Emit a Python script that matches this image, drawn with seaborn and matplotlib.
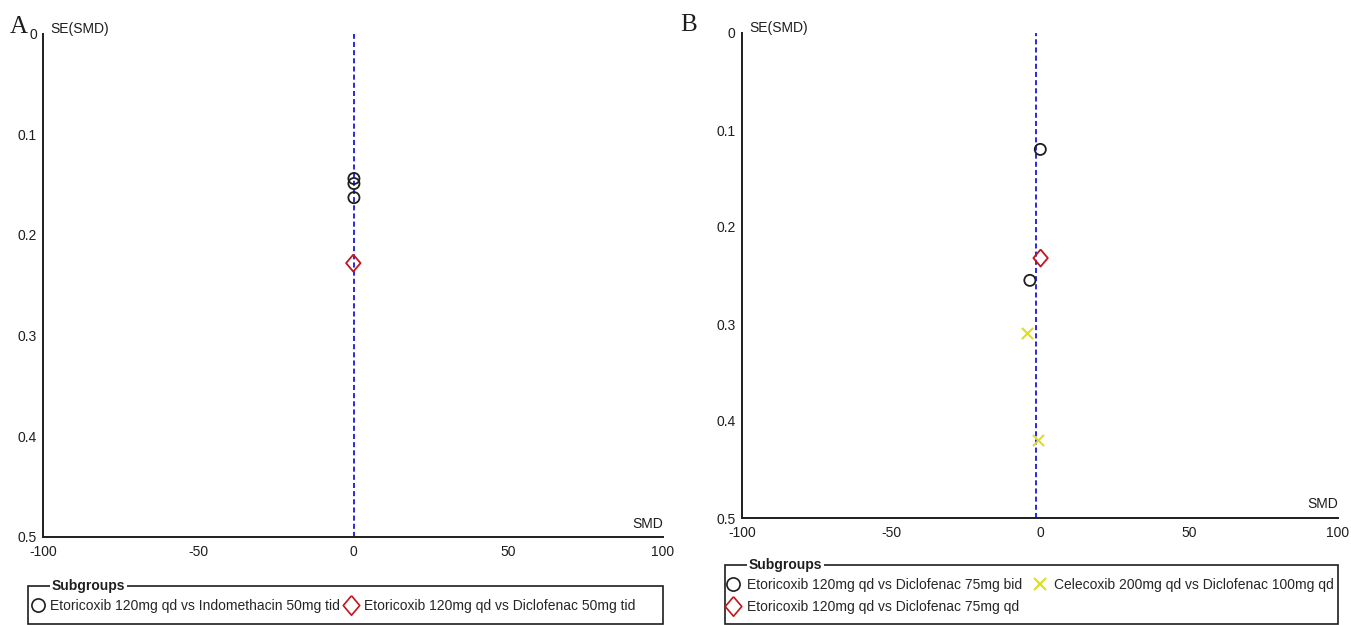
import matplotlib
matplotlib.use("Agg")
import matplotlib.pyplot as plt
import matplotlib.transforms as mtransforms
from matplotlib.lines import Line2D
from matplotlib.patches import Rectangle
import seaborn as sns
import pandas as pd

# ---- data -------------------------------------------------------------
# Panel A subgroups
a_indo_smd = [0.3, 0.3, 0.3]
a_indo_se = [0.144, 0.149, 0.163]
a_diclo_smd = [0.1]
a_diclo_se = [0.228]
a_pooled = 0.3

# Panel B subgroups
b_bid_smd = [0.1, -3.4]
b_bid_se = [0.120, 0.255]
b_qd_smd = [0.2]
b_qd_se = [0.232]
b_cel_smd = [-4.5, -0.8]
b_cel_se = [0.309, 0.420]
b_pooled = -1.3

a_labels = ["Etoricoxib 120mg qd vs Indomethacin 50mg tid",
            "Etoricoxib 120mg qd vs Diclofenac 50mg tid"]
b_labels = ["Etoricoxib 120mg qd vs Diclofenac 75mg bid",
            "Etoricoxib 120mg qd vs Diclofenac 75mg qd",
            "Celecoxib 200mg qd vs Diclofenac 100mg qd"]

x_ticks = [-100, -50, 0, 50, 100]
y_ticks = [0, 0.1, 0.2, 0.3, 0.4, 0.5]
y_ticklabels = ["0", "0.1", "0.2", "0.3", "0.4", "0.5"]

# ---- style ------------------------------------------------------------
sns.set_theme(style="white")
plt.rcParams["font.family"] = ["Liberation Sans", "DejaVu Sans"]

BLACK = "#1e1e1e"
RED = "#c0161c"
YELLOW = "#dede1e"
BLUE = "#2a2ad8"
FS = 10

fig = plt.figure(figsize=(13.51, 6.25), dpi=100)
W, H = 1351, 625


def fx(px):
    return px / W


def fy(py):
    return 1 - py / H


def make_axes(left, right, top, bottom):
    return fig.add_axes([fx(left), fy(bottom), fx(right) - fx(left), fy(top) - fy(bottom)])


def style_axes(ax, pooled, smd_gap):
    ax.set_xlim(-100, 100)
    ax.set_ylim(0.5, 0)
    ax.axvline(pooled, color=BLUE, lw=1.4, ls=(0, (2.6, 1.6)), zorder=1)
    for s in ["top", "right"]:
        ax.spines[s].set_visible(False)
    for s in ["left", "bottom"]:
        ax.spines[s].set_color(BLACK)
        ax.spines[s].set_linewidth(1.4)
    ax.set_xticks(x_ticks)
    ax.set_xticklabels([str(v) for v in x_ticks])
    ax.set_yticks(y_ticks)
    ax.set_yticklabels(y_ticklabels)
    ax.tick_params(axis="both", direction="inout", length=9, width=1.3,
                   color=BLACK, labelsize=FS, labelcolor=BLACK, pad=1)
    ax.tick_params(axis="y", pad=0)
    ax.set_xlabel("")
    ax.set_ylabel("")
    off = mtransforms.offset_copy(ax.transAxes, fig=fig, x=7, y=1, units="dots")
    ax.text(0, 1.0, "SE(SMD)", transform=off, fontsize=FS,
            ha="left", va="baseline", color=BLACK)
    off2 = mtransforms.offset_copy(ax.transAxes, fig=fig, x=0, y=smd_gap, units="dots")
    ax.text(1.0, 0.0, "SMD", transform=off2, fontsize=FS,
            ha="right", va="baseline", color=BLACK)
    ax.set_facecolor("none")


def scatter(ax, smd, se, marker, color, size, open_marker=True, lw=1.3):
    df = pd.DataFrame({"SMD": smd, "SE": se})
    sns.scatterplot(data=df, x="SMD", y="SE", ax=ax, marker=marker, s=size,
                    color=color, linewidth=lw, legend=False, zorder=3)
    coll = ax.collections[-1]
    if open_marker:
        coll.set_facecolor("none")
    coll.set_edgecolor(color)
    coll.set_linewidth(lw)


diamond = [(0, 1), (0.85, 0), (0, -1), (-0.85, 0), (0, 1)]

# ---- panel A ----------------------------------------------------------
axA = make_axes(43, 663, 33.5, 537)
scatter(axA, a_indo_smd, a_indo_se, "o", BLACK, 64)
scatter(axA, a_diclo_smd, a_diclo_se, diamond, RED, 150)
style_axes(axA, a_pooled, 9)

# ---- panel B ----------------------------------------------------------
axB = make_axes(742, 1338, 33, 518)
scatter(axB, b_bid_smd, b_bid_se, "o", BLACK, 64)
scatter(axB, b_qd_smd, b_qd_se, diamond, RED, 150)
scatter(axB, b_cel_smd, b_cel_se, "x", YELLOW, 64, open_marker=False, lw=1.5)
style_axes(axB, b_pooled, 10)

# panel letters
fig.text(fx(10), fy(33), "A", fontsize=18, family="Liberation Serif", color=BLACK,
         ha="left", va="baseline")
fig.text(fx(680), fy(31), "B", fontsize=18, family="Liberation Serif", color=BLACK,
         ha="left", va="baseline")


# ---- subgroup legends -------------------------------------------------
def subgroup_box(left, right, top, bottom, title_x):
    fig.patches.append(Rectangle((fx(left), fy(bottom)), fx(right) - fx(left),
                                 fy(top) - fy(bottom), transform=fig.transFigure,
                                 fill=False, edgecolor=BLACK, lw=1.2, zorder=1))
    fig.text(fx(title_x), fy(top), "Subgroups", fontsize=FS, fontweight="bold",
             ha="left", va="center", color=BLACK, zorder=2,
             bbox=dict(facecolor="white", edgecolor="none", pad=1.2))


def handle(marker, color, size, lw=1.2):
    return Line2D([], [], ls="none", marker=marker, markersize=size,
                  markerfacecolor="none", markeredgecolor=color, markeredgewidth=lw)


subgroup_box(28, 663, 586, 624, 52)
fig.legend([handle("o", BLACK, 9.5), handle(diamond, RED, 14)], a_labels,
           loc="center left", bbox_to_anchor=(fx(31), fy(606)), ncol=2,
           frameon=False, fontsize=FS, handlelength=1.0, handletextpad=0.4,
           columnspacing=0.3, borderpad=0, borderaxespad=0)

subgroup_box(725, 1338, 565, 624, 749)
fig.legend([handle("o", BLACK, 9.5), handle(diamond, RED, 14),
            handle("x", YELLOW, 9, 1.5)], b_labels,
           loc="center left", bbox_to_anchor=(fx(726), fy(596)), ncol=2,
           frameon=False, fontsize=FS, handlelength=1.0, handletextpad=0.5,
           columnspacing=0.8, borderpad=0, borderaxespad=0, labelspacing=0.55)

fig.savefig("out.png", dpi=100)
